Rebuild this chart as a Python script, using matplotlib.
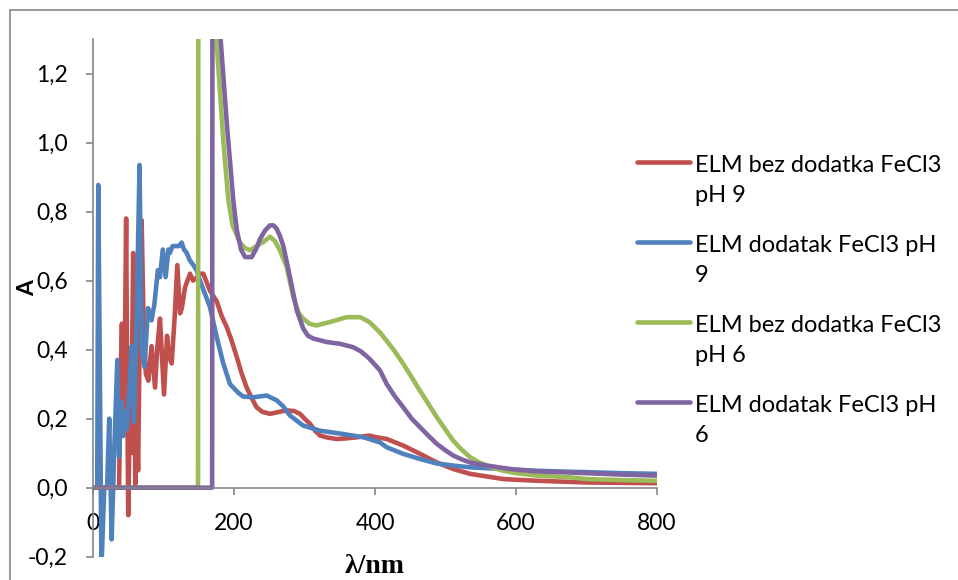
import numpy as np
import matplotlib
matplotlib.use("Agg")
import matplotlib.pyplot as plt
from matplotlib.lines import Line2D
from matplotlib.patches import Rectangle

plt.rcParams['font.family'] = ['Lato', 'DejaVu Sans']

# ---- data (wavelength in nm, absorbance A) ----
red_x = [0, 36, 37, 39, 41, 43, 45, 47, 48.5, 50, 52, 54, 57, 59, 60, 62, 64, 66, 69,
         72, 75, 78.5, 83, 88, 91, 95, 100.7, 105, 108, 111.6, 116, 119.6, 123.5, 126,
         130.5, 137.6, 142, 148, 151.8, 156.5, 166, 175.5, 182, 189.7, 196, 204, 211,
         218, 225, 232, 240, 251, 265, 274.7, 285, 293.6, 300, 307.8, 315, 322, 333,
         345.7, 360, 374, 392, 402, 416.7, 440, 464, 487.7, 511, 535, 560, 582, 600,
         630, 700, 800]
red_y = [0, 0, 0, 0.30, 0.475, 0.20, 0.35, 0.78, 0.30, -0.08, 0.20, 0.10, 0.68, 0.30,
         0.01, 0.20, 0.05, 0.40, 0.775, 0.45, 0.33, 0.31, 0.41, 0.29, 0.40, 0.49, 0.27,
         0.44, 0.38, 0.36, 0.50, 0.645, 0.505, 0.52, 0.58, 0.62, 0.60, 0.61, 0.62, 0.62,
         0.57, 0.54, 0.50, 0.465, 0.43, 0.378, 0.33, 0.29, 0.26, 0.233, 0.22, 0.214,
         0.22, 0.224, 0.222, 0.214, 0.20, 0.185, 0.165, 0.151, 0.145, 0.141, 0.143,
         0.146, 0.151, 0.146, 0.141, 0.122, 0.098, 0.073, 0.054, 0.040, 0.032, 0.025,
         0.023, 0.020, 0.015, 0.013]

blue_x = [0, 6, 7.5, 12, 16, 20, 23, 26.5, 30, 34.5, 37, 40, 43, 45, 48, 52, 55, 58,
          62, 66, 69, 73, 78, 83, 87, 92, 95, 99, 103, 107, 109, 113, 118.7, 122, 125.8,
          129, 133, 137, 142.3, 147, 151.8, 161, 166, 175.5, 184.8, 194.3, 199, 206,
          213, 227.5, 246.5, 260.6, 270, 279.4, 298, 322, 350, 383.6, 407, 416.7, 440,
          464, 487.7, 511, 535, 582, 630, 677, 700, 750, 800]
blue_y = [0, 0, 0.877, -0.23, 0.0, 0.0, 0.20, -0.15, 0.10, 0.37, 0.09, 0.25, 0.15,
          0.22, 0.17, 0.30, 0.41, 0.19, 0.50, 0.935, 0.40, 0.35, 0.52, 0.485, 0.53,
          0.63, 0.61, 0.69, 0.61, 0.69, 0.68, 0.70, 0.70, 0.70, 0.71, 0.69, 0.68, 0.66,
          0.645, 0.63, 0.60, 0.55, 0.523, 0.436, 0.36, 0.30, 0.29, 0.275, 0.264, 0.262,
          0.267, 0.253, 0.235, 0.209, 0.18, 0.165, 0.157, 0.146, 0.131, 0.117, 0.098,
          0.083, 0.070, 0.064, 0.059, 0.054, 0.049, 0.046, 0.045, 0.042, 0.040]

green_x = [0, 148, 149, 150, 165, 175, 185, 192, 198, 208, 215, 222.7, 232, 241.6, 251,
           258, 265, 274.7, 284, 292, 298, 307, 317, 336, 360, 379, 392, 407, 416, 428,
           440, 452, 464, 476, 487.7, 500, 511, 523, 535, 547, 558.8, 570, 582, 600,
           630, 677, 700, 750, 800]
green_y = [0, 0, 0, 3.5, 2.2, 1.3, 1.0, 0.833, 0.76, 0.712, 0.695, 0.688, 0.70, 0.712,
           0.727, 0.715, 0.688, 0.64, 0.553, 0.505, 0.49, 0.475, 0.47, 0.48, 0.494,
           0.494, 0.48, 0.45, 0.427, 0.395, 0.359, 0.32, 0.28, 0.242, 0.204, 0.168,
           0.136, 0.11, 0.088, 0.074, 0.064, 0.056, 0.049, 0.042, 0.035, 0.030, 0.025,
           0.022, 0.020]

purple_x = [0, 168, 169, 170, 178, 181, 190, 199, 204, 210, 215.7, 225, 231, 236.9,
            244, 251, 256, 260.6, 265, 270, 279.4, 289, 298.4, 305, 312.6, 331.6, 350,
            369, 380, 392, 407, 416.7, 428, 440, 452, 464, 476, 487.7, 500, 511, 523,
            535, 558.8, 582, 600, 630, 677, 700, 750, 800]
purple_y = [0, 0, 0, 3.5, 2.0, 1.3, 1.05, 0.833, 0.746, 0.69, 0.668, 0.668, 0.69, 0.72,
            0.745, 0.76, 0.76, 0.75, 0.73, 0.70, 0.61, 0.514, 0.46, 0.44, 0.432, 0.422,
            0.417, 0.407, 0.395, 0.374, 0.34, 0.30, 0.265, 0.233, 0.20, 0.175, 0.15,
            0.127, 0.108, 0.093, 0.082, 0.073, 0.064, 0.057, 0.052, 0.047, 0.044,
            0.042, 0.038, 0.035]

series = [
    (red_x, red_y, '#C0504D', 'ELM bez dodatka FeCl3\npH 9'),
    (blue_x, blue_y, '#4F81BD', 'ELM dodatak FeCl3 pH\n9'),
    (green_x, green_y, '#9BBB59', 'ELM bez dodatka FeCl3\npH 6'),
    (purple_x, purple_y, '#8064A2', 'ELM dodatak FeCl3 pH\n6'),
]
x_ticks = [0, 200, 400, 600, 800]
y_ticks = [-0.2, 0.0, 0.2, 0.4, 0.6, 0.8, 1.0, 1.2]

W, H = 958, 580
fig = plt.figure(figsize=(W / 100, H / 100), dpi=100)
grey = '#868686'

# outer chart frame (cut by the picture edge on the right and bottom)
fig.add_artist(Rectangle((9.5 / W, -0.2), 2.0, 1.2 - 10 / H,
                         transform=fig.transFigure, fill=False,
                         edgecolor=grey, linewidth=1.2))

ax = fig.add_axes([93 / W, 1 - 556.7 / H, (657 - 93) / W, (556.7 - 39) / H])

for xs, ys, col, lab in series:
    ax.plot(xs, ys, color=col, linewidth=3.3, solid_capstyle='round',
            solid_joinstyle='round')

ax.set_xlim(0, 800)
ax.set_ylim(-0.2, 1.3)
ax.spines['top'].set_visible(False)
ax.spines['right'].set_visible(False)
ax.spines['bottom'].set_position(('data', 0))
for s in ('left', 'bottom'):
    ax.spines[s].set_color(grey)
    ax.spines[s].set_linewidth(1.2)

ax.set_xticks(x_ticks)
ax.set_xticklabels([str(v) for v in x_ticks])
ax.set_yticks(y_ticks)
ax.set_yticklabels([f"{v:.1f}".replace('.', ',') for v in y_ticks])
ax.tick_params(axis='x', direction='out', length=5, width=1.2, color=grey,
               pad=13.5, labelsize=16.5)
ax.tick_params(axis='y', direction='out', length=5, width=1.2, color=grey,
               pad=13, labelsize=16.5)

ax.text(0.5, -0.018, 'λ/nm', transform=ax.transAxes, ha='center', va='center',
        fontsize=20, fontweight='bold', family=['Liberation Serif', 'DejaVu Serif'])
ax.text(-0.116, 0.518, 'A', transform=ax.transAxes, ha='center', va='center',
        rotation=90, fontsize=16.5, fontweight='bold')

# legend drawn by hand so the key line sits on the first text line
leg_y = [161.7, 241.7, 321.7, 401.7]
for (xs, ys, col, lab), yy in zip(series, leg_y):
    fy = 1 - yy / H
    fig.add_artist(Line2D([637 / W, 690 / W], [fy, fy], transform=fig.transFigure,
                          color=col, linewidth=3.3, solid_capstyle='round'))
    # baseline of the second (last) line, 33 px under the first one
    fig.text(695 / W, 1 - (yy + 7.6 + 33) / H, lab, ha='left', va='baseline',
             fontsize=17, linespacing=1.52)

fig.savefig('out.png', dpi=100)
